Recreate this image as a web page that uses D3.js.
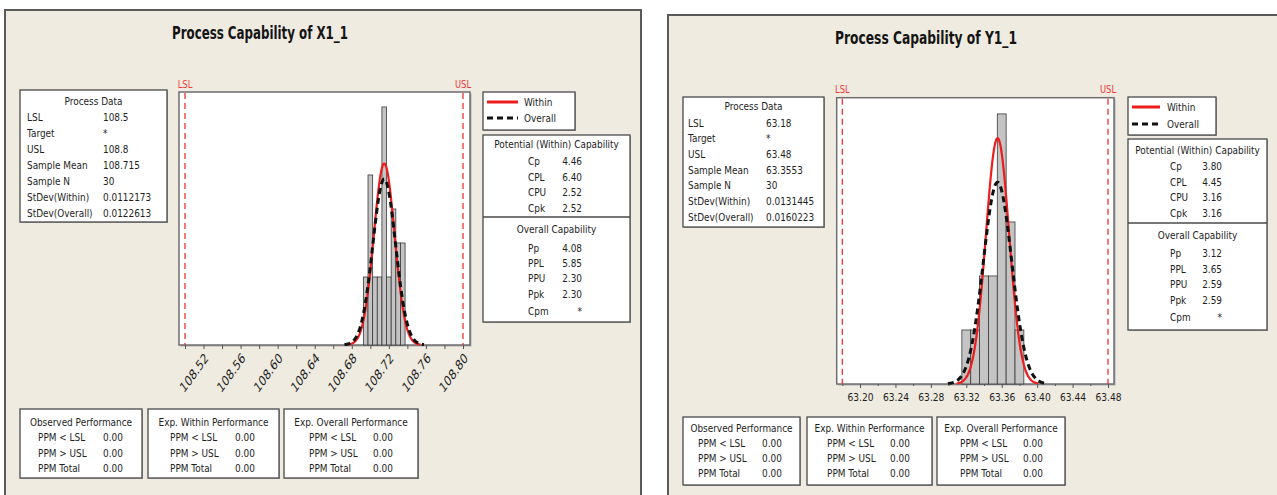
<!DOCTYPE html>
<html>
<head>
<meta charset="utf-8">
<script src="https://cdn.jsdelivr.net/npm/d3@7"></script>
<style>
  html, body { margin: 0; padding: 0; background: #ffffff; }
  svg { display: block; }
  text { font-family: "DejaVu Sans", "Liberation Sans", sans-serif; }
</style>
</head>
<body>
<svg id="chart" width="1277" height="495"></svg>
<script>
// ---------------- DATA ----------------
const titles = ["Process Capability of X1_1", "Process Capability of Y1_1"];

// Histogram X1_1
const xBinMid = [108.695, 108.700, 108.705, 108.710, 108.715, 108.720, 108.725, 108.730, 108.735];
const xCounts = [2, 5, 2, 2, 7, 2, 4, 3, 3];
const xBinWidth = 0.005;
const xSpec = { LSL: 108.5, USL: 108.8, mean: 108.715, sdWithin: 0.0112173, sdOverall: 0.0122613, n: 30 };
const xTickLabels = [108.52, 108.56, 108.60, 108.64, 108.68, 108.72, 108.76, 108.80];
const xMinorTicks = [108.50, 108.54, 108.58, 108.62, 108.66, 108.70, 108.74, 108.78];

// Histogram Y1_1
const yBinMid = [63.32, 63.33, 63.34, 63.35, 63.36, 63.37, 63.38];
const yCounts = [2, 2, 4, 4, 10, 6, 2];
const yBinWidth = 0.01;
const ySpec = { LSL: 63.18, USL: 63.48, mean: 63.3553, sdWithin: 0.0131445, sdOverall: 0.0160223, n: 30 };
const yTickLabels = [63.20, 63.24, 63.28, 63.32, 63.36, 63.40, 63.44, 63.48];
const yMinorTicks = [63.18, 63.22, 63.26, 63.30, 63.34, 63.38, 63.42, 63.46];

// Tables
const processLabels = ["LSL", "Target", "USL", "Sample Mean", "Sample N", "StDev(Within)", "StDev(Overall)"];
const xProcessValues = ["108.5", "*", "108.8", "108.715", "30", "0.0112173", "0.0122613"];
const yProcessValues = ["63.18", "*", "63.48", "63.3553", "30", "0.0131445", "0.0160223"];

const withinLabels = ["Cp", "CPL", "CPU", "Cpk"];
const xWithinValues = ["4.46", "6.40", "2.52", "2.52"];
const yWithinValues = ["3.80", "4.45", "3.16", "3.16"];

const overallLabels = ["Pp", "PPL", "PPU", "Ppk", "Cpm"];
const xOverallValues = ["4.08", "5.85", "2.30", "2.30", "*"];
const yOverallValues = ["3.12", "3.65", "2.59", "2.59", "*"];

const perfTitles = ["Observed Performance", "Exp. Within Performance", "Exp. Overall Performance"];
const perfLabels = ["PPM < LSL", "PPM > USL", "PPM Total"];
const xPerfValues = [["0.00", "0.00", "0.00"], ["0.00", "0.00", "0.00"], ["0.00", "0.00", "0.00"]];
const yPerfValues = [["0.00", "0.00", "0.00"], ["0.00", "0.00", "0.00"], ["0.00", "0.00", "0.00"]];

const legendLabels = ["Within", "Overall"];

// ---------------- DRAWING ----------------
const svg = d3.select("#chart");
const TXT = "#1e1e1e";
const SX = 0.85;

function txt(g, x, y, s, o = {}) {
  const size = o.size || 10.5, sx = o.sx || SX;
  const t = g.append("text")
    .attr("transform", `translate(${x},${y}) scale(${sx},1)` + (o.rot ? ` rotate(${o.rot})` : ""))
    .attr("text-anchor", o.anchor || "start")
    .attr("font-size", size)
    .attr("font-weight", o.weight || "normal")
    .attr("fill", o.fill || TXT)
    .text(s);
  return t;
}

function box(g, x0, y0, x1, y1) {
  g.append("rect").attr("x", x0 + 1).attr("y", y0 + 1).attr("width", x1 - x0).attr("height", y1 - y0)
    .attr("fill", "#a8a8a8");
  g.append("rect").attr("x", x0).attr("y", y0).attr("width", x1 - x0).attr("height", y1 - y0)
    .attr("fill", "#ffffff").attr("stroke", "#4a4a4a").attr("stroke-width", 1.3);
}

function normal(x, m, s) {
  return Math.exp(-0.5 * ((x - m) / s) ** 2) / (s * Math.sqrt(2 * Math.PI));
}

function drawPanel(cfg) {
  const g = svg.append("g");
  // panel background
  g.append("rect").attr("x", cfg.panel[0]).attr("y", cfg.panel[1])
    .attr("width", cfg.panel[2] - cfg.panel[0]).attr("height", cfg.panel[3] - cfg.panel[1])
    .attr("fill", "#f0ebe1").attr("stroke", "#5a5a5a").attr("stroke-width", 2);

  // title
  g.append("text").attr("x", cfg.title.x).attr("y", cfg.title.y)
    .attr("text-anchor", "middle").attr("font-size", 18).attr("font-weight", "bold")
    .attr("fill", "#141414")
    .attr("textLength", cfg.title.w).attr("lengthAdjust", "spacingAndGlyphs")
    .text(cfg.title.text);

  // scales
  const sp = cfg.spec;
  const x = d3.scaleLinear().domain([sp.LSL, sp.USL]).range(cfg.specPx);
  const y = d3.scaleLinear().domain([0, cfg.yMax]).range([cfg.plot.y1, cfg.plot.y0]);
  const P = cfg.plot;

  // plot area
  g.append("rect").attr("x", P.x0 + 1.5).attr("y", P.y0 + 1.5).attr("width", P.x1 - P.x0).attr("height", P.y1 - P.y0)
    .attr("fill", "#b0b0b0");
  g.append("rect").attr("x", P.x0).attr("y", P.y0).attr("width", P.x1 - P.x0).attr("height", P.y1 - P.y0)
    .attr("fill", "#ffffff").attr("stroke", "#6e6e6e").attr("stroke-width", 1.5);

  // histogram bars
  const bins = cfg.binMid.map((m, i) => ({ m, c: cfg.counts[i] }));
  g.append("g").selectAll("rect").data(bins).join("rect")
    .attr("x", d => x(d.m - cfg.binWidth / 2))
    .attr("y", d => y(d.c))
    .attr("width", d => x(d.m + cfg.binWidth / 2) - x(d.m - cfg.binWidth / 2))
    .attr("height", d => y(0) - y(d.c))
    .attr("fill", "#c4c4c4").attr("stroke", "#3a3a3a").attr("stroke-width", 0.8);

  // spec lines
  [sp.LSL, sp.USL].forEach((v, i) => {
    g.append("line").attr("x1", x(v)).attr("x2", x(v)).attr("y1", P.y0 + 1).attr("y2", P.y1)
      .attr("stroke", "#f03030").attr("stroke-width", 1.3).attr("stroke-dasharray", "6,4");
    txt(g, x(v), cfg.specLabelY, i === 0 ? "LSL" : "USL", { anchor: "middle", fill: "#f03a3a", size: 10.5, sx: 0.8 });
  });

  // fitted curves
  const scale = sp.n * cfg.binWidth;
  function curve(sd) {
    const pts = d3.range(0, 201).map(k => {
      const xv = sp.mean - 3.5 * sd + k * (7 * sd / 200);
      return [xv, scale * normal(xv, sp.mean, sd)];
    });
    return d3.line().x(d => x(d[0])).y(d => y(d[1])).curve(d3.curveBasis)(pts);
  }
  g.append("path").attr("d", curve(sp.sdWithin)).attr("fill", "none")
    .attr("stroke", "#ee1c1c").attr("stroke-width", 2.2);
  g.append("path").attr("d", curve(sp.sdOverall)).attr("fill", "none")
    .attr("stroke", "#111111").attr("stroke-width", 3).attr("stroke-dasharray", "6,4");

  // axis
  const axG = g.append("g").attr("transform", `translate(0,${P.y1})`);
  const major = d3.axisBottom(x).tickValues(cfg.tickLabels).tickSize(4).tickFormat(d3.format(".2f"));
  axG.call(major);
  axG.select(".domain").remove();
  axG.selectAll(".tick line").attr("stroke", "#555");
  const minor = d3.axisBottom(x).tickValues(cfg.minorTicks).tickSize(cfg.minorSize).tickFormat("");
  const axM = g.append("g").attr("transform", `translate(0,${P.y1})`).call(minor);
  axM.select(".domain").remove();
  axM.selectAll(".tick line").attr("stroke", "#555");

  const labels = axG.selectAll(".tick text").attr("fill", TXT).attr("font-family", '"DejaVu Sans", sans-serif')
    .attr("x", 0).attr("y", 0).attr("dy", 0);
  if (cfg.rotate) {
    labels.attr("font-size", 14).attr("text-anchor", "end")
      .attr("transform", `translate(5,14) scale(0.72,1) rotate(-45)`);
  } else {
    labels.attr("font-size", 11).attr("text-anchor", "middle")
      .attr("transform", `translate(0,17) scale(0.83,1)`);
  }

  // process data box
  const pd = cfg.pd;
  box(g, pd.x0, pd.y0, pd.x1, pd.y1);
  txt(g, (pd.x0 + pd.x1) / 2, pd.titleY + 3.5, "Process Data", { anchor: "middle" });
  processLabels.forEach((l, i) => {
    const yy = pd.rowY0 + i * pd.step + 3.5;
    txt(g, pd.labelX, yy, l);
    txt(g, pd.valueX, yy, cfg.processValues[i]);
  });

  // legend
  const lg = cfg.legend;
  box(g, lg.x0, lg.y0, lg.x1, lg.y1);
  legendLabels.forEach((l, i) => {
    const yy = lg.rows[i];
    g.append("line").attr("x1", lg.lx0).attr("x2", lg.lx1).attr("y1", yy).attr("y2", yy)
      .attr("stroke", i === 0 ? "#ee1c1c" : "#111").attr("stroke-width", 3)
      .attr("stroke-dasharray", i === 0 ? null : "6,4");
    txt(g, lg.tx, yy + 3.5, l);
  });

  // capability box
  const cb = cfg.cap;
  box(g, cb.x0, cb.y0, cb.x1, cb.y1);
  g.append("line").attr("x1", cb.x0).attr("x2", cb.x1).attr("y1", cb.div).attr("y2", cb.div)
    .attr("stroke", "#4a4a4a").attr("stroke-width", 1.3);
  txt(g, (cb.x0 + cb.x1) / 2, cb.t1 + 3.5, "Potential (Within) Capability", { anchor: "middle" });
  withinLabels.forEach((l, i) => {
    txt(g, cb.labelX, cb.rows1[i] + 3.5, l);
    txt(g, cb.valueX, cb.rows1[i] + 3.5, cfg.withinValues[i], { anchor: "end" });
  });
  txt(g, (cb.x0 + cb.x1) / 2, cb.t2 + 3.5, "Overall Capability", { anchor: "middle" });
  overallLabels.forEach((l, i) => {
    txt(g, cb.labelX, cb.rows2[i] + 3.5, l);
    txt(g, cb.valueX, cb.rows2[i] + 3.5, cfg.overallValues[i], { anchor: "end" });
  });

  // performance boxes
  const pf = cfg.perf;
  pf.boxes.forEach((b, j) => {
    box(g, b.x0, pf.y0, b.x1, pf.y1);
    txt(g, (b.x0 + b.x1) / 2, pf.titleY + 3.5, perfTitles[j], { anchor: "middle" });
    perfLabels.forEach((l, i) => {
      txt(g, b.lx, pf.rows[i] + 3.5, l);
      txt(g, b.vx, pf.rows[i] + 3.5, cfg.perfValues[j][i]);
    });
  });
}

drawPanel({
  panel: [5, 10, 641, 500],
  title: { text: titles[0], x: 260, y: 39, w: 176 },
  spec: xSpec, specPx: [185, 463], yMax: 7.44,
  plot: { x0: 179, x1: 470, y0: 92, y1: 345 },
  specLabelY: 88,
  binMid: xBinMid, counts: xCounts, binWidth: xBinWidth,
  tickLabels: xTickLabels, minorTicks: xMinorTicks, minorSize: 4, rotate: true,
  processValues: xProcessValues,
  pd: { x0: 20, x1: 167, y0: 90, y1: 222, titleY: 101, rowY0: 117, step: 16, labelX: 27, valueX: 103 },
  legend: { x0: 483, x1: 575, y0: 92, y1: 130, rows: [102, 118], lx0: 487, lx1: 518, tx: 524 },
  withinValues: xWithinValues, overallValues: xOverallValues,
  cap: { x0: 483, x1: 630, y0: 135, y1: 322, div: 217, t1: 144, t2: 229,
         rows1: [161, 177, 192, 208], rows2: [248, 263, 278, 294, 311], labelX: 528, valueX: 582 },
  perfValues: xPerfValues,
  perf: { y0: 409, y1: 478, titleY: 422, rows: [437, 453, 468],
          boxes: [{ x0: 20, x1: 142, lx: 38, vx: 103 }, { x0: 148, x1: 279, lx: 170, vx: 235 }, { x0: 284, x1: 418, lx: 309, vx: 373 }] }
});

drawPanel({
  panel: [668, 15, 1290, 510],
  title: { text: titles[1], x: 926, y: 44, w: 182 },
  spec: ySpec, specPx: [842.3, 1108], yMax: 10.6,
  plot: { x0: 836.7, x1: 1114, y0: 97.7, y1: 384 },
  specLabelY: 93,
  binMid: yBinMid, counts: yCounts, binWidth: yBinWidth,
  tickLabels: yTickLabels, minorTicks: yMinorTicks, minorSize: 2, rotate: false,
  processValues: yProcessValues,
  pd: { x0: 683, x1: 824, y0: 97, y1: 227, titleY: 106, rowY0: 123, step: 15.7, labelX: 688, valueX: 766 },
  legend: { x0: 1128, x1: 1216, y0: 97, y1: 135, rows: [107, 124], lx0: 1132, lx1: 1160, tx: 1167 },
  withinValues: yWithinValues, overallValues: yOverallValues,
  cap: { x0: 1128, x1: 1267, y0: 139, y1: 330, div: 223, t1: 150, t2: 235,
         rows1: [166, 182, 197, 213], rows2: [253, 269, 284, 300, 317], labelX: 1170, valueX: 1222 },
  perfValues: yPerfValues,
  perf: { y0: 417, y1: 485, titleY: 428, rows: [443, 458, 473],
          boxes: [{ x0: 683, x1: 800, lx: 698, vx: 762 }, { x0: 807, x1: 932, lx: 827, vx: 890 }, { x0: 937, x1: 1065, lx: 960, vx: 1023 }] }
});
</script>
</body>
</html>
